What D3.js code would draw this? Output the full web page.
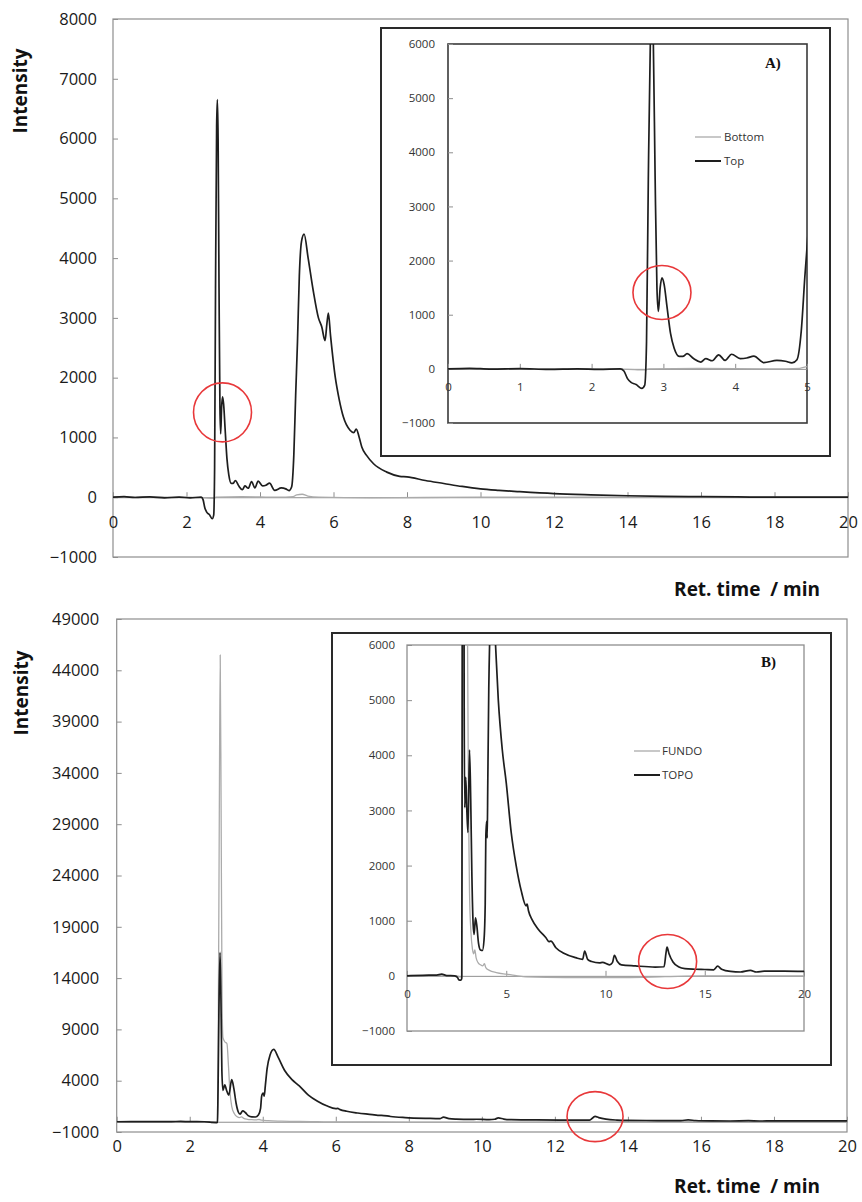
<!DOCTYPE html>
<html><head><meta charset="utf-8">
<script src="https://cdn.jsdelivr.net/npm/d3@7"></script>
<style>body{margin:0;background:#fff}svg{display:block}text{font-family:"Open Sans",sans-serif}</style>
</head><body><svg id="c" width="862" height="1202"></svg>
<script>
// ---------- DATA ----------
// Panel A (top): "Top" (black) and "Bottom" (grey) chromatograms
const aTopTime = [0,0.3,0.6,1.0,1.4,1.8,2.1,2.4,2.45,2.5,2.55,2.62,2.7,2.74,2.765,2.79,2.82,2.84,2.86,2.885,2.91,2.93,2.955,2.98,3.01,3.05,3.1,3.15,3.22,3.27,3.33,3.42,3.52,3.59,3.68,3.77,3.86,3.95,4.07,4.16,4.26,4.4,4.58,4.7,4.79,4.86,4.92,4.97,5.02,5.07,5.13,5.2,5.31,5.45,5.59,5.68,5.77,5.82,5.86,5.92,6.05,6.15,6.27,6.45,6.55,6.62,6.7,6.77,6.9,7.09,7.45,7.8,8.0,8.5,9.0,9.5,10,10.5,11,12,13,14,15,16,17,18,19,20];
const aTopVal  = [0,10,-5,5,-10,0,-10,0,-40,-180,-250,-290,-360,-300,500,3500,6200,6650,6000,3500,1500,1060,1500,1680,1560,1150,650,380,230,230,280,190,125,190,150,260,155,270,190,200,235,115,155,140,110,170,700,1700,2600,3700,4280,4400,4000,3450,3000,2850,2620,2900,3080,2700,2000,1650,1340,1120,1080,1140,1000,840,700,560,420,350,340,280,230,180,140,115,95,60,40,25,15,10,5,0,0,0];
const aBotTime = [0,1,2,2.5,2.75,2.8,3.5,4.5,4.9,5.0,5.15,5.3,5.6,7,10,14,20];
const aBotVal  = [0,0,0,-10,-20,0,10,0,10,40,50,20,0,-10,0,0,0];

// Panel B (bottom): "TOPO" (black) and "FUNDO" (grey) chromatograms
const bTopoTime = [0,0.8,1.5,1.75,2.0,2.4,2.55,2.6,2.72,2.76,2.775,2.8,2.83,2.855,2.88,2.91,2.96,3.01,3.07,3.15,3.21,3.27,3.33,3.38,3.45,3.52,3.6,3.7,3.8,3.88,3.94,3.97,4.01,4.04,4.07,4.12,4.2,4.3,4.42,4.6,4.8,5.0,5.25,5.5,5.75,6.0,6.05,6.12,6.3,6.6,7.0,7.15,7.25,7.5,7.9,8.5,8.85,8.95,9.1,9.3,9.7,9.85,10.2,10.35,10.45,10.6,10.8,11.5,12.5,12.95,13.05,13.1,13.2,13.4,13.7,14,14.5,15,15.45,15.65,15.85,16.3,16.8,17.3,17.6,18,19,20];
const bTopoVal  = [0,10,15,30,5,0,-30,-70,-80,-40,3000,11000,16500,12000,5000,3050,3600,3050,2600,4100,3200,1800,950,750,1050,900,600,470,460,650,1300,2500,2800,2500,3500,5200,6500,7050,6300,5000,4100,3500,2600,2000,1550,1270,1300,1180,1020,850,690,620,630,510,410,330,300,450,300,260,235,245,200,240,370,260,200,180,160,165,420,520,400,250,160,130,120,115,110,175,120,80,70,100,70,85,85,80];
const bFundoTime = [0,1,2,2.5,2.7,2.76,2.78,2.81,2.835,2.86,2.885,2.91,2.96,3.02,3.06,3.1,3.15,3.22,3.3,3.36,3.42,3.48,3.58,3.7,3.82,3.9,3.97,4.15,4.5,5.0,5.5,6,8,11,13,15,20];
const bFundoVal  = [0,0,0,0,-20,-20,8000,30000,45500,30000,12000,8200,7800,7600,5500,3000,1500,800,480,400,470,330,240,200,180,220,150,100,60,30,5,-20,-30,-30,-15,0,0];

// Tick values
const aMainXTicks = [0,2,4,6,8,10,12,14,16,18,20];
const aMainYTicks = [-1000,0,1000,2000,3000,4000,5000,6000,7000,8000];
const aInsetXTicks = [0,1,2,3,4,5];
const insetYTicks = [-1000,0,1000,2000,3000,4000,5000,6000];
const bMainXTicks = [0,2,4,6,8,10,12,14,16,18,20];
const bMainYTicks = [-1000,4000,9000,14000,19000,24000,29000,34000,39000,44000,49000];
const bInsetXTicks = [0,5,10,15,20];

// Legend labels
const aLegend = ["Bottom","Top"];
const bLegend = ["FUNDO","TOPO"];

// ---------- DRAWING ----------
const svg = d3.select('#c');
const BLACK = '#1e1e1e', GREY = '#ababab';
let clipId = 0;

function panel(c){
  const g = svg.append('g');
  if (c.box){
    g.append('rect').attr('x',c.box[0]).attr('y',c.box[1]).attr('width',c.box[2]-c.box[0]).attr('height',c.box[3]-c.box[1])
      .attr('fill','#fff').attr('stroke','#2a2a2a').attr('stroke-width',2);
  }
  const x = d3.scaleLinear().domain(c.xDomain).range([c.x0,c.x1]);
  const y = d3.scaleLinear().domain(c.yDomain).range([c.y1,c.y0]);
  g.append('rect').attr('x',c.x0).attr('y',c.y0).attr('width',c.x1-c.x0).attr('height',c.y1-c.y0)
    .attr('fill','#fff').attr('stroke',c.border).attr('stroke-width',c.borderW);
  // y axis
  const ya = g.append('g').attr('transform',`translate(${c.x0},0)`)
    .call(d3.axisLeft(y).tickValues(c.yTicks).tickSizeInner(-5).tickSizeOuter(0).tickPadding(c.yPad).tickFormat(d3.format('d')));
  ya.select('.domain').remove();
  ya.selectAll('line').attr('stroke',c.tickColor);
  ya.selectAll('text').attr('font-size',c.fs).attr('fill',c.textColor).style('font-family','"Open Sans",sans-serif');
  // x axis at zero
  const xa = g.append('g').attr('transform',`translate(0,${y(0)})`)
    .call(d3.axisBottom(x).tickValues(c.xTicks).tickSizeInner(-5).tickSizeOuter(0).tickPadding(c.xPad).tickFormat(d3.format('d')));
  xa.select('.domain').attr('stroke',c.tickColor);
  xa.selectAll('line').attr('stroke',c.tickColor);
  xa.selectAll('text').attr('font-size',c.fs).attr('fill',c.textColor).style('font-family','"Open Sans",sans-serif');
  // clip
  const id = 'clip'+(clipId++);
  svg.append('defs').append('clipPath').attr('id',id).append('rect')
    .attr('x',c.x0).attr('y',c.y0).attr('width',c.x1-c.x0).attr('height',c.y1-c.y0);
  const lg = g.append('g').attr('clip-path',`url(#${id})`);
  const line = d3.line().x(d=>x(d[0])).y(d=>y(d[1])).curve(d3.curveMonotoneX);
  c.series.forEach(s=>{
    const pts = s.t.map((t,i)=>[t,s.v[i]]);
    lg.append('path').attr('d',line(pts)).attr('fill','none').attr('stroke',s.color).attr('stroke-width',s.w).attr('stroke-linejoin','round');
  });
  // annotation circle
  if (c.circle){
    g.append('ellipse').attr('cx',x(c.circle[0])).attr('cy',y(c.circle[1])).attr('rx',c.circle[2]).attr('ry',c.circle[3])
      .attr('fill','none').attr('stroke','#e8383a').attr('stroke-width',1.6);
  }
  return {g,x,y};
}

// ---- Top main chart ----
panel({x0:113,x1:848,y0:19,y1:557,xDomain:[0,20],yDomain:[-1000,8000],xTicks:aMainXTicks,yTicks:aMainYTicks,
  border:'#8e8e8e',borderW:1.2,tickColor:'#8e8e8e',fs:16.5,textColor:'#1a1a1a',yPad:16,xPad:19.5,
  series:[{t:aBotTime,v:aBotVal,color:GREY,w:1.3},{t:aTopTime,v:aTopVal,color:BLACK,w:1.7}],
  circle:[2.98,1420,29,29.5]});
svg.append('text').attr('transform','translate(27,91) rotate(-90)').attr('text-anchor','middle')
  .attr('font-size',19).attr('font-weight','bold').attr('fill','#111').text('Intensity');
svg.append('text').attr('x',820).attr('y',596).attr('text-anchor','end').style('white-space','pre')
  .attr('font-size',19).attr('font-weight','bold').attr('fill','#111').text('Ret. time  / min');

// ---- Inset A ----
panel({box:[381,28,830,456],x0:448,x1:807,y0:44,y1:423,xDomain:[0,5],yDomain:[-1000,6000],xTicks:aInsetXTicks,yTicks:insetYTicks,
  border:'#3a3a3a',borderW:1.6,tickColor:'#8e8e8e',fs:11.5,textColor:'#333',yPad:13,xPad:14,
  series:[{t:aBotTime,v:aBotVal,color:GREY,w:1.3},{t:aTopTime,v:aTopVal,color:BLACK,w:1.7}],
  circle:[2.98,1410,29,27]});
svg.append('text').attr('x',765).attr('y',68).attr('font-size',15).attr('font-weight','bold')
  .style('font-family','"Liberation Serif",serif').attr('fill','#111').text('A)');
[[aLegend[0],GREY,1.3,137],[aLegend[1],BLACK,2,161]].forEach(d=>{
  svg.append('line').attr('x1',695).attr('x2',721).attr('y1',d[3]).attr('y2',d[3]).attr('stroke',d[1]).attr('stroke-width',d[2]);
  svg.append('text').attr('x',724).attr('y',d[3]+4).attr('font-size',11.5).attr('fill','#333').text(d[0]);
});

// ---- Bottom main chart ----
panel({x0:116.7,x1:847,y0:619,y1:1132,xDomain:[0,20],yDomain:[-1000,49000],xTicks:bMainXTicks,yTicks:bMainYTicks,
  border:'#8e8e8e',borderW:1.2,tickColor:'#8e8e8e',fs:16.5,textColor:'#1a1a1a',yPad:17.5,xPad:19,
  series:[{t:bFundoTime,v:bFundoVal,color:GREY,w:1.3},{t:bTopoTime,v:bTopoVal,color:BLACK,w:1.7}],
  circle:[13.1,500,28,25]});
svg.append('text').attr('transform','translate(28,693) rotate(-90)').attr('text-anchor','middle')
  .attr('font-size',19).attr('font-weight','bold').attr('fill','#111').text('Intensity');
svg.append('text').attr('x',820).attr('y',1193).attr('text-anchor','end').style('white-space','pre')
  .attr('font-size',19).attr('font-weight','bold').attr('fill','#111').text('Ret. time  / min');

// ---- Inset B ----
panel({box:[332,633,831,1065],x0:407,x1:804,y0:645,y1:1031,xDomain:[0,20],yDomain:[-1000,6000],xTicks:bInsetXTicks,yTicks:insetYTicks,
  border:'#8e8e8e',borderW:1.3,tickColor:'#8e8e8e',fs:11.5,textColor:'#333',yPad:12,xPad:14,
  series:[{t:bFundoTime,v:bFundoVal,color:GREY,w:1.3},{t:bTopoTime,v:bTopoVal,color:BLACK,w:1.7}],
  circle:[13.13,260,29,27]});
svg.append('text').attr('x',761).attr('y',667).attr('font-size',15).attr('font-weight','bold')
  .style('font-family','"Liberation Serif",serif').attr('fill','#111').text('B)');
[[bLegend[0],GREY,1.3,751],[bLegend[1],BLACK,2,775]].forEach(d=>{
  svg.append('line').attr('x1',634).attr('x2',660).attr('y1',d[3]).attr('y2',d[3]).attr('stroke',d[1]).attr('stroke-width',d[2]);
  svg.append('text').attr('x',662).attr('y',d[3]+4).attr('font-size',11.5).attr('fill','#333').text(d[0]);
});
</script></body></html>
